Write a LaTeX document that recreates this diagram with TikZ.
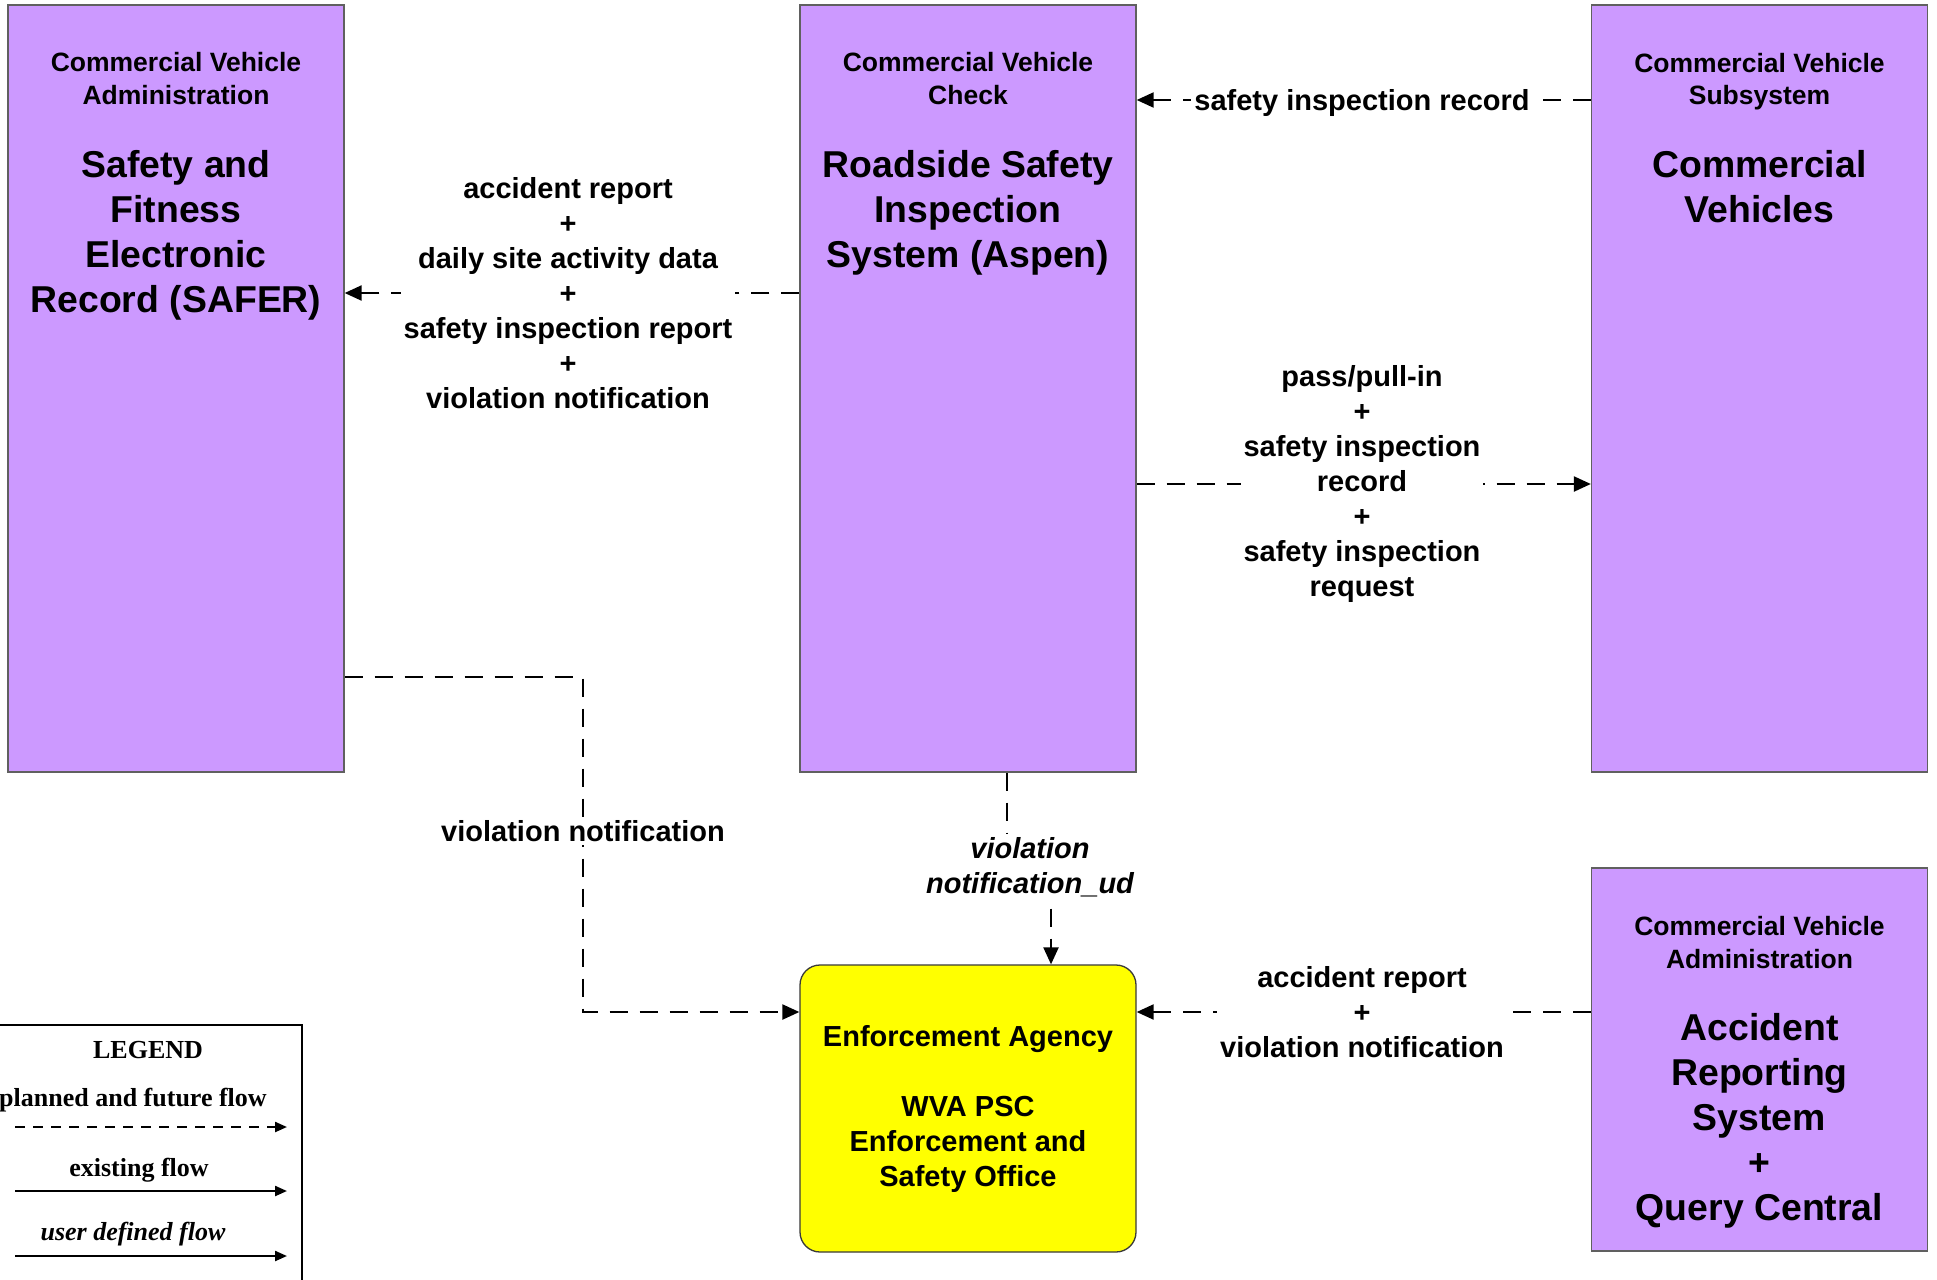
\documentclass[tikz,border=0pt]{standalone}
\usepackage{fontspec}
\setmainfont{Liberation Sans}
\newfontfamily\lserif{Liberation Serif}
\usetikzlibrary{arrows.meta,calc,backgrounds}
\definecolor{purp}{HTML}{CC99FF}
\definecolor{yel}{HTML}{FFFF00}
\definecolor{bord}{HTML}{606060}
\begin{document}
\begin{tikzpicture}[x=1pt,y=-1pt,
  sysbox/.style={draw=bord,line width=1.3pt,fill=purp,minimum width=336pt,minimum height=767pt,inner sep=0pt},
  hdr/.style={align=center,inner sep=0pt,font=\fontsize{26.5}{32.5}\selectfont\bfseries},
  ttl/.style={align=center,inner sep=0pt,font=\fontsize{37.4}{45}\selectfont\bfseries},
  flbl/.style={align=center,fill=white,inner sep=3pt,font=\fontsize{29}{35}\selectfont\bfseries},
  flow/.style={line width=2.2pt,dash pattern=on 18pt off 12pt,-{Triangle[length=17pt,width=15pt]}},
  legtxt/.style={inner sep=0pt,font=\lserif\fontsize{26}{30}\selectfont\bfseries},
  legline/.style={line width=2.2pt,-{Triangle[length=12pt,width=10pt]}}
]
\useasboundingbox (0,0) rectangle (1937,1279);
\begin{scope}[on background layer]
\fill[white] (0,0) rectangle (1937,1279);
\end{scope}

% boxes
\node[sysbox] (safer) at (176,388.5) {};
\node[sysbox] (rs) at (968,388.5) {};
\node[sysbox] (cv) at (1759.5,388.5) {};
\node[sysbox,minimum height=383pt] (ar) at (1759.5,1059.5) {};
\node[draw=bord!60!black,line width=1.3pt,fill=yel,rounded corners=20pt,minimum width=336pt,minimum height=287pt,inner sep=0pt] (ea) at (968,1108.5) {};

% box texts
\node[hdr] (safer-h) at (176,78.5) {Commercial Vehicle\\Administration};
\node[ttl] (safer-t) at (176,235) {Safety and\\Fitness\\Electronic\\Record (SAFER)};
\node[hdr] (rs-h) at (968,78.5) {Commercial Vehicle\\Check};
\node[ttl] (rs-t) at (968,212.5) {Roadside Safety\\Inspection\\System (Aspen)};
\node[hdr] (cv-h) at (1759.5,81.5) {Commercial Vehicle\\Subsystem};
\node[ttl] (cv-t) at (1759.5,186.5) {Commercial\\Vehicles};
\node[hdr] (ar-h) at (1759.5,942.5) {Commercial Vehicle\\Administration};
\node[ttl] (ar-t) at (1759.5,1120.5) {Accident\\Reporting\\System\\+\\Query Central};
\node[align=center,inner sep=0pt,font=\fontsize{29}{35}\selectfont\bfseries] (ea-t) at (968,1109) {Enforcement Agency\\[35pt]WVA PSC\\Enforcement and\\Safety Office};

% flow labels
\node[flbl] (l1) at (568,293) {accident report\\+\\daily site activity data\\+\\safety inspection report\\+\\violation notification};
\node[flbl,text height=21pt,text depth=0pt] (l2) at (1362,100) {safety inspection record};
\node[flbl] (l3) at (1362,484) {pass/pull-in\\+\\safety inspection\\record\\+\\safety inspection\\request};
\node[flbl] (l4) at (583,831) {violation notification};
\node[flbl,font=\fontsize{29}{35}\selectfont\bfseries\itshape] (l5) at (1030,867) {violation\\notification\_ud};
\node[flbl] (l6) at (1362,1012) {accident report\\+\\violation notification};

% connectors
\begin{scope}[on background layer]
\draw[flow] (rs.west |- l1) -- (safer.east |- l1);
\draw[flow] (cv.west |- l2) -- (rs.east |- l2);
\draw[flow] (rs.east |- l3) -- (cv.west |- l3);
\draw[flow] ([yshift=-288.5pt]safer.east) -| (l4.center) |- (ea.west |- l6);
\draw[flow] ([xshift=39pt]rs.south) |- (l5.center) -| ([xshift=83pt]ea.north);
\draw[flow] (ar.west |- l6) -- (ea.east |- l6);
\end{scope}

% legend
\node[draw,line width=2.5pt,minimum width=305pt,minimum height=265pt,inner sep=0pt] (leg) at (149.5,1157.5) {};
\node[legtxt] (leg-t) at (148,1050) {LEGEND};
\node[legtxt] (leg-p) at (133,1100) {planned and future flow};
\node[legtxt] (leg-e) at (139,1170) {existing flow};
\node[legtxt,font=\lserif\fontsize{26}{30}\selectfont\bfseries\itshape] (leg-u) at (133,1234) {user defined flow};
\coordinate (pa) at (15,1127); \coordinate (pb) at (287,1127);
\coordinate (ea1) at (15,1191); \coordinate (eb1) at (287,1191);
\coordinate (ua) at (15,1256); \coordinate (ub) at (287,1256);
\draw[legline,dash pattern=on 10pt off 8pt] (pa) -- (pb);
\draw[legline] (ea1) -- (eb1);
\draw[legline] (ua) -- (ub);
\end{tikzpicture}
\end{document}
